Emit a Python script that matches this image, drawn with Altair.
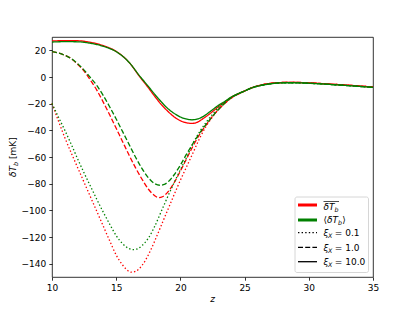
import altair as alt
import pandas as pd

FONT = "DejaVu Sans"

# ---- shared tail (all xi_X curves merge after z ~ 25) ----
Z_TAIL = [25, 25.5, 26, 26.5, 27, 27.5, 28, 28.5, 29, 30, 31, 32, 33, 34, 35]
RED_TAIL = [-10.5, -8.3, -6.7, -5.6, -4.8, -4.3, -4.1, -4.0, -4.05, -4.4, -4.9, -5.5, -6.1, -6.8, -7.5]
GREEN_TAIL = [-10.5, -8.4, -6.9, -5.9, -5.1, -4.6, -4.4, -4.3, -4.35, -4.7, -5.2, -5.8, -6.4, -7.1, -7.8]

# ---- mean dT_b (red) ----
Z_RED_10 = [10, 11, 12, 13, 14, 15, 16, 16.85, 17.5, 18, 18.5, 19, 19.5, 20, 20.5, 20.9, 21.3, 21.8, 22.3, 23, 23.5, 24, 24.5]
V_RED_10 = [27, 27.3, 27.2, 26, 23.5, 19.2, 11, 0, -8, -14.5, -20.5, -25.5, -29.8, -32.8, -34.4, -34.8, -34, -31, -27.5, -22, -18.5, -15, -12.5]

Z_RED_1 = [10, 10.5, 11, 11.5, 12, 12.5, 13, 13.5, 14, 14.5, 15, 15.5, 16, 16.5, 17, 17.5, 18, 18.3, 18.6, 19, 19.5, 20, 20.5, 21, 21.5, 22, 22.5, 23, 23.5, 24, 24.5]
V_RED_1 = [19, 18, 16.3, 13.8, 9.5, 4.5, -2.5, -10, -19, -28.5, -38.5, -48.5, -58.5, -68, -76.5, -84, -89, -90.5, -89.8, -86.5, -79.5, -70.5, -61, -51.5, -43, -36, -29.5, -24, -19.5, -15.5, -12.8]

Z_RED_01 = [10, 10.5, 11, 11.5, 12, 12.5, 13, 13.5, 14, 14.5, 15, 15.5, 16, 16.2, 16.5, 17, 17.5, 18, 18.5, 19, 19.5, 20, 20.5, 21, 21.5, 22, 22.5, 23, 23.5, 24, 24.5]
V_RED_01 = [-19.8, -33, -45.5, -57, -68, -79, -90, -101, -112, -123, -133.5, -141, -145.8, -146.4, -145.8, -141.5, -133.5, -123, -111.5, -100, -88.5, -77.4, -67, -56.5, -46, -37, -30, -24, -19.5, -15.5, -12.8]

# ---- global <dT_b> (green) ----
Z_GRN_10 = [10, 11, 12, 13, 14, 15, 16, 16.85, 17.5, 18, 18.5, 19, 19.5, 20, 20.5, 20.9, 21.3, 21.8, 22.3, 23, 23.5, 24, 24.5]
V_GRN_10 = [26.2, 26.5, 26.4, 25.3, 23, 19, 11, 0.5, -7, -13, -18.5, -23.5, -27.2, -30, -31.6, -32.1, -31.6, -29.5, -26, -21, -18, -14.8, -12.5]

Z_GRN_1 = [10, 10.5, 11, 11.5, 12, 12.5, 13, 13.5, 14, 14.5, 15, 15.5, 16, 16.5, 17, 17.5, 18, 18.4, 18.8, 19.3, 19.5, 20, 20.5, 21, 21.5, 22, 22.5, 23, 23.5, 24, 24.5]
V_GRN_1 = [19, 18, 16.3, 13.8, 10, 5.2, -0.5, -6.5, -14, -22.5, -31.5, -41, -50.5, -60, -68.5, -75.5, -80, -81.2, -80.3, -76, -73.5, -66, -57.5, -49.5, -42, -35.5, -29.5, -24, -19.2, -15.3, -12.7]

Z_GRN_01 = [10, 10.5, 11, 11.5, 12, 12.5, 13, 13.5, 14, 14.5, 15, 15.5, 16, 16.3, 16.7, 17, 17.5, 18, 18.5, 19, 19.5, 20, 20.5, 21, 21.5, 22, 22.5, 23, 23.5, 24, 24.5]
V_GRN_01 = [-19.8, -30, -40, -50.5, -61.5, -72, -82, -92, -101.5, -110.5, -119, -125, -128.7, -129.5, -128.7, -126.5, -121, -112, -101, -90, -79.5, -69.5, -60, -49.5, -41, -34, -28, -22.5, -18.5, -15.2, -12.7]

XI_LABELS = ["0.1", "1.0", "10.0"]


def series(z, v, tz, tv, xi):
    return pd.DataFrame({"z": list(z) + list(tz), "T": list(v) + list(tv), "xi": xi})


df_red = pd.concat([
    series(Z_RED_01, V_RED_01, Z_TAIL, RED_TAIL, "0.1"),
    series(Z_RED_1, V_RED_1, Z_TAIL, RED_TAIL, "1.0"),
    series(Z_RED_10, V_RED_10, Z_TAIL, RED_TAIL, "10.0"),
])
df_grn = pd.concat([
    series(Z_GRN_01, V_GRN_01, Z_TAIL, GREEN_TAIL, "0.1"),
    series(Z_GRN_1, V_GRN_1, Z_TAIL, GREEN_TAIL, "1.0"),
    series(Z_GRN_10, V_GRN_10, Z_TAIL, GREEN_TAIL, "10.0"),
])

axis_common = dict(title=None, grid=False, domain=False, tickSize=3.2, tickWidth=0.8,
                   tickColor="black", labelFont=FONT, labelFontSize=9, labelColor="black",
                   labelPadding=3, labelFlush=False, labelOverlap=False)

x_enc = alt.X("z:Q", scale=alt.Scale(domain=[10, 35], nice=False, zero=False),
              axis=alt.Axis(values=[10, 15, 20, 25, 30, 35], **axis_common))
y_enc = alt.Y("T:Q", scale=alt.Scale(domain=[-150, 30], nice=False, zero=False),
              axis=alt.Axis(values=[-140, -120, -100, -80, -60, -40, -20, 0, 20], **axis_common))
dash_enc = alt.StrokeDash("xi:N", scale=alt.Scale(domain=XI_LABELS,
                          range=[[1.4, 2.2], [5, 2.2], [1, 0]]), legend=None)


def lines(df, color):
    return alt.Chart(df).mark_line(color=color, strokeWidth=1.3, interpolate="monotone").encode(
        x=x_enc, y=y_enc, strokeDash=dash_enc, order="z:Q")


one = pd.DataFrame({"k": [0]})


def txt(s, x, y, size=9, italic=False, angle=0, align="left"):
    return alt.Chart(one).mark_text(
        text=s, font=FONT, fontSize=size, fontStyle="italic" if italic else "normal",
        align=align, baseline="alphabetic", angle=angle, color="black"
    ).encode(x=alt.value(x), y=alt.value(y))


def rule(x1, x2, y, color="black", width=1.3, dash=None):
    kw = dict(color=color, strokeWidth=width)
    if dash is not None:
        kw["strokeDash"] = dash
    return alt.Chart(one).mark_rule(**kw).encode(x=alt.value(x1), x2=alt.value(x2), y=alt.value(y))


# legend box
legend_box = alt.Chart(one).mark_rect(fill="white", fillOpacity=0.8, stroke="#cccccc",
                                      strokeWidth=0.8, cornerRadius=2).encode(
    x=alt.value(243), x2=alt.value(316.5), y=alt.value(160), y2=alt.value(235.5))

HX1, HX2, TX = 246, 265, 271.5
rows = [168, 183, 195.7, 210.3, 224.7]

legend_layers = [
    legend_box,
    rule(HX1, HX2, rows[0], color="red", width=3),
    rule(HX1, HX2, rows[1], color="green", width=3),
    rule(HX1, HX2, rows[2], dash=[1.4, 2.2]),
    rule(HX1, HX2, rows[3], dash=[5, 2.2]),
    rule(HX1, HX2, rows[4]),
    # row 1: overline dT_b
    txt("δT", TX, rows[0] + 4.5, italic=True),
    txt("b", TX + 11, rows[0] + 6.5, size=6.3, italic=True),
    rule(TX, TX + 15.5, rows[0] - 3.5, width=0.7),
    # row 2: <dT_b>
    txt("⟨", TX, rows[1] + 3.2),
    txt("δT", TX + 3.6, rows[1] + 3.2, italic=True),
    txt("b", TX + 14.6, rows[1] + 5.2, size=6.3, italic=True),
    txt("⟩", TX + 18.8, rows[1] + 3.2),
]
for r, lab in zip(rows[2:], XI_LABELS):
    legend_layers += [
        txt("ξ", TX, r + 3.5, italic=True),
        txt("X", TX + 4.6, r + 5.5, size=6.3, italic=True),
        txt("= " + lab, TX + 11.3, r + 3.5),
    ]

# axis titles
titles = [
    txt("z", 160.5, 265, italic=True, align="center"),
    txt("δT", -36.5, 140, italic=True, angle=270),
    txt("b", -34, 129, size=6.3, italic=True, angle=270),
    txt("[mK]", -36.5, 122, angle=270),
]

chart = alt.layer(
    lines(df_red, "red"),
    lines(df_grn, "green"),
    *legend_layers,
    *titles,
).properties(
    width=321, height=240,
    padding={"left": 44, "top": 29, "right": 34, "bottom": 26},
    autosize=alt.AutoSizeParams(type="none"),
    background="white",
).configure_view(stroke="black", strokeWidth=0.8)

chart.save("out.html", embed_options={"renderer": "svg", "actions": False})
